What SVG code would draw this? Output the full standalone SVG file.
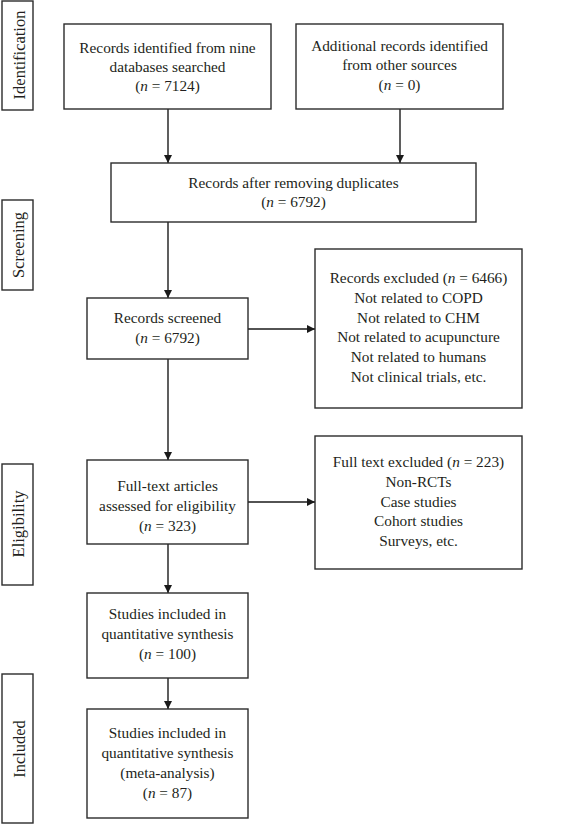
<svg xmlns="http://www.w3.org/2000/svg" width="566" height="825" viewBox="0 0 566 825">
<style>
.box{fill:#fff;stroke:#2b2b2b;stroke-width:1.4}
.t{font-family:"Liberation Serif","Times New Roman",serif;font-size:15.3px;fill:#231f20;text-anchor:middle}
.lab{font-family:"Liberation Serif","Times New Roman",serif;font-size:16.5px;fill:#231f20;text-anchor:middle}
.i{font-style:italic}
.c{stroke:#1a1a1a;stroke-width:1.4;fill:none;marker-end:url(#ah)}
</style>
<defs>
<marker id="ah" viewBox="0 0 10 10" refX="10" refY="5" markerWidth="9" markerHeight="8" markerUnits="userSpaceOnUse" orient="auto">
<path d="M0,0 L10,5 L0,10 Z" fill="#1a1a1a"/>
</marker>
</defs>
<rect width="566" height="825" fill="#fff"/>

<g id="stage-identification">
<rect class="box" x="2" y="1" width="31" height="109"/>
<text class="lab" transform="translate(25,55) rotate(-90)">Identification</text>
</g>
<g id="stage-screening">
<rect class="box" x="2" y="200" width="31" height="90"/>
<text class="lab" transform="translate(24,245) rotate(-90)">Screening</text>
</g>
<g id="stage-eligibility">
<rect class="box" x="2" y="464" width="31" height="121"/>
<text class="lab" transform="translate(24,524) rotate(-90)">Eligibility</text>
</g>
<g id="stage-included">
<rect class="box" x="2" y="674" width="31" height="149"/>
<text class="lab" transform="translate(25,749) rotate(-90)">Included</text>
</g>

<g id="connectors">
<line class="c" x1="168" y1="109" x2="168" y2="163"/>
<line class="c" x1="400" y1="109" x2="400" y2="163"/>
<line class="c" x1="168" y1="222" x2="168" y2="298"/>
<line class="c" x1="248" y1="329" x2="315" y2="329"/>
<line class="c" x1="168" y1="359" x2="168" y2="460"/>
<line class="c" x1="248" y1="502" x2="315" y2="502"/>
<line class="c" x1="168" y1="544" x2="168" y2="593"/>
<line class="c" x1="168" y1="678" x2="168" y2="709"/>
</g>

<g id="n-identified">
<rect class="box" x="64" y="24" width="207" height="85"/>
<text class="t" x="167.5" y="52.5">Records identified from nine</text>
<text class="t" x="167.5" y="71.5">databases searched</text>
<text class="t" x="167.5" y="90.5">(<tspan class="i">n</tspan> = 7124)</text>
</g>
<g id="n-additional">
<rect class="box" x="296" y="24" width="207" height="85"/>
<text class="t" x="399.5" y="50.5">Additional records identified</text>
<text class="t" x="399.5" y="70">from other sources</text>
<text class="t" x="399.5" y="89.5">(<tspan class="i">n</tspan> = 0)</text>
</g>
<g id="n-duplicates">
<rect class="box" x="111" y="163" width="365" height="59"/>
<text class="t" x="293.5" y="188">Records after removing duplicates</text>
<text class="t" x="293.5" y="207">(<tspan class="i">n</tspan> = 6792)</text>
</g>
<g id="n-screened">
<rect class="box" x="87" y="298" width="161" height="61"/>
<text class="t" x="167.5" y="323">Records screened</text>
<text class="t" x="167.5" y="343">(<tspan class="i">n</tspan> = 6792)</text>
</g>
<g id="n-excluded">
<rect class="box" x="315" y="249" width="207" height="159"/>
<text class="t" x="418.5" y="283">Records excluded (<tspan class="i">n</tspan> = 6466)</text>
<text class="t" x="418.5" y="303">Not related to COPD</text>
<text class="t" x="418.5" y="322.5">Not related to CHM</text>
<text class="t" x="418.5" y="342">Not related to acupuncture</text>
<text class="t" x="418.5" y="362">Not related to humans</text>
<text class="t" x="418.5" y="382">Not clinical trials, etc.</text>
</g>
<g id="n-fulltext">
<rect class="box" x="87" y="460" width="161" height="84"/>
<text class="t" x="167.5" y="491">Full-text articles</text>
<text class="t" x="167.5" y="511">assessed for eligibility</text>
<text class="t" x="167.5" y="531">(<tspan class="i">n</tspan> = 323)</text>
</g>
<g id="n-ftexcluded">
<rect class="box" x="315" y="436" width="207" height="133"/>
<text class="t" x="418.5" y="467">Full text excluded (<tspan class="i">n</tspan> = 223)</text>
<text class="t" x="418.5" y="487">Non-RCTs</text>
<text class="t" x="418.5" y="506.5">Case studies</text>
<text class="t" x="418.5" y="526">Cohort studies</text>
<text class="t" x="418.5" y="546">Surveys, etc.</text>
</g>
<g id="n-qualitative">
<rect class="box" x="87" y="593" width="161" height="85"/>
<text class="t" x="167.5" y="619">Studies included in</text>
<text class="t" x="167.5" y="639">quantitative synthesis</text>
<text class="t" x="167.5" y="659">(<tspan class="i">n</tspan> = 100)</text>
</g>
<g id="n-meta">
<rect class="box" x="87" y="709" width="161" height="109"/>
<text class="t" x="167.5" y="738">Studies included in</text>
<text class="t" x="167.5" y="758">quantitative synthesis</text>
<text class="t" x="167.5" y="778">(meta-analysis)</text>
<text class="t" x="167.5" y="798">(<tspan class="i">n</tspan> = 87)</text>
</g>
</svg>
